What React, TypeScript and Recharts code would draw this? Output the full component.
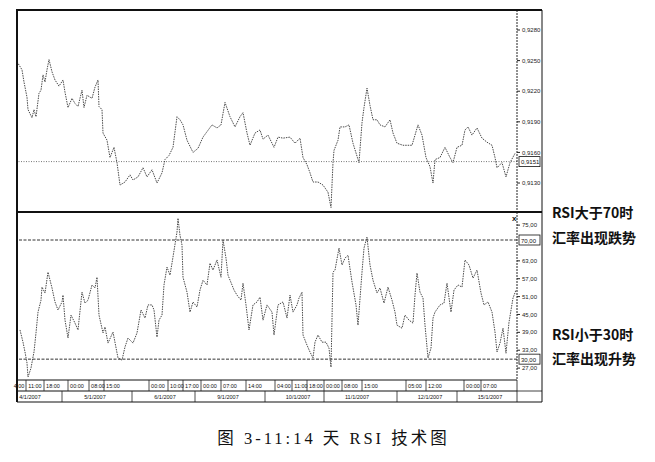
import { LineChart, Line, XAxis, YAxis, ReferenceLine } from "recharts";

// bar positions (hourly bars from the left edge) and closing rates, EUR/USD-ish quote
const priceBars = [
  0, 5, 7, 10, 11, 15, 17, 19, 22, 24, 26, 28, 30, 32, 35, 38, 42, 46, 48, 51,
  55, 58, 61, 65, 67, 70, 75, 78, 81, 82, 85, 86, 90, 93, 97, 100, 103, 108, 113, 116,
  121, 126, 130, 135, 140, 145, 148, 152, 156, 160, 163, 166, 170, 176, 181, 186, 195, 200, 204, 208,
  213, 218, 223, 226, 230, 233, 238, 243, 246, 251, 257, 261, 266, 273, 278, 283, 286, 290, 293, 296,
  301, 306, 311, 314, 316, 317, 321, 323, 328, 332, 336, 342, 345, 347, 350, 353, 356, 360, 363, 368,
  373, 376, 380, 386, 395, 401, 405, 409, 413, 416, 418, 423, 428, 433, 436, 440, 445, 448, 451, 455,
  460, 465, 470, 475, 478, 480, 485, 489, 493, 498,
];
const priceValues = [
  0.9249, 0.9241, 0.9229, 0.9214, 0.9202, 0.9194, 0.9202, 0.9195, 0.9218, 0.9221,
  0.9236, 0.9229, 0.9241, 0.9251, 0.9239, 0.9231, 0.9225, 0.9231, 0.9219, 0.9204,
  0.9213, 0.9208, 0.9205, 0.9221, 0.9204, 0.9216, 0.9213, 0.9224, 0.9231, 0.9205,
  0.9202, 0.9179, 0.9172, 0.9155, 0.9165, 0.915, 0.9128, 0.9131, 0.9138, 0.9133,
  0.9136, 0.9145, 0.9136, 0.9143, 0.913, 0.914, 0.9153, 0.9157, 0.9165, 0.9195,
  0.9192, 0.9187, 0.9172, 0.916, 0.9164, 0.9175, 0.9187, 0.9184, 0.9187, 0.9209,
  0.9195, 0.9185, 0.9195, 0.9199, 0.9179, 0.9167, 0.9179, 0.9182, 0.9173, 0.9177,
  0.9165, 0.9175, 0.9174, 0.9175, 0.9169, 0.9174, 0.9155, 0.9148, 0.914, 0.9131,
  0.9131, 0.9128, 0.9121, 0.9106, 0.915, 0.9162, 0.9172, 0.9185, 0.9185, 0.9187,
  0.9169, 0.915, 0.9189, 0.9204, 0.9223, 0.9206, 0.9192, 0.9192, 0.9187, 0.9185,
  0.9192, 0.9179, 0.9169, 0.9167, 0.9167, 0.9187, 0.9177, 0.9155, 0.9146, 0.913,
  0.9153, 0.9155, 0.9165, 0.9155, 0.915, 0.9165, 0.9167, 0.9182, 0.9185, 0.9177,
  0.9184, 0.9174, 0.917, 0.9167, 0.9155, 0.9145, 0.915, 0.9136, 0.915, 0.9159,
];

const rsiBars = [
  3, 6, 8, 10, 11, 14, 16, 17, 19, 21, 24, 25, 28, 31, 35, 38, 41, 45, 46, 48,
  51, 54, 58, 61, 65, 68, 71, 75, 78, 80, 82, 86, 88, 91, 96, 101, 105, 108, 111, 116,
  120, 124, 128, 131, 135, 137, 140, 142, 145, 147, 150, 153, 156, 160, 161, 163, 165, 166, 170, 173,
  176, 180, 183, 186, 190, 193, 196, 200, 204, 206, 209, 211, 215, 217, 220, 224, 226, 229, 232, 236,
  240, 243, 246, 250, 255, 257, 261, 266, 270, 273, 276, 280, 282, 285, 286, 290, 293, 296, 298, 301,
  305, 309, 312, 314, 316, 318, 322, 325, 328, 331, 335, 339, 341, 345, 347, 350, 353, 356, 360, 363,
  367, 371, 375, 378, 380, 385, 388, 392, 396, 398, 400, 403, 406, 408, 411, 414, 416, 418, 423, 427,
  430, 434, 437, 441, 445, 448, 452, 456, 460, 464, 467, 471, 475, 478, 480, 483, 486, 489, 492, 496, 499,
];
const rsiValues = [
  39.8, 35.7, 32.4, 28.7, 24.0, 27.0, 30.7, 32.4, 38.8, 45.8, 49.8, 54.2, 52.2, 59.2, 53.9, 49.2, 46.5, 49.2, 51.5, 43.1,
  37.1, 44.8, 42.1, 39.8, 52.5, 48.8, 49.8, 54.9, 53.9, 57.5, 44.8, 38.8, 40.8, 35.4, 39.1, 30.4, 29.7, 34.1, 37.1, 35.4,
  38.8, 46.5, 43.8, 48.2, 48.2, 46.5, 37.4, 43.1, 44.8, 54.9, 60.9, 58.2, 64.3, 72.7, 77.3, 71.6, 68.3, 57.5, 52.5, 45.8,
  49.2, 47.5, 53.2, 56.5, 54.9, 62.2, 59.9, 63.3, 57.5, 70.0, 63.9, 58.2, 54.9, 53.2, 51.5, 49.8, 55.5, 48.2, 39.8, 48.2,
  49.2, 50.8, 43.1, 48.2, 45.8, 38.1, 48.2, 49.2, 43.8, 51.5, 45.8, 48.2, 50.5, 52.5, 38.1, 34.7, 32.4, 30.4, 35.7, 38.1,
  35.7, 35.7, 33.7, 27.3, 59.2, 59.9, 67.3, 61.6, 63.9, 64.9, 55.9, 48.2, 41.4, 59.2, 67.3, 71.0, 61.6, 56.5, 52.2, 53.9,
  48.8, 54.2, 49.8, 45.8, 41.4, 40.4, 44.8, 43.1, 42.1, 51.5, 58.9, 52.5, 50.5, 41.4, 30.4, 33.7, 43.8, 45.8, 48.2, 48.8,
  55.5, 45.8, 53.2, 54.9, 54.2, 63.3, 61.6, 57.2, 59.9, 52.2, 48.2, 49.2, 45.8, 39.1, 32.4, 35.4, 40.4, 32.0, 42.4, 50.5, 53.2,
];

const priceTicks = [0.913, 0.916, 0.919, 0.922, 0.925, 0.928];
const priceLast = 0.9151;
const rsiTicks = [27, 33, 39, 45, 51, 57, 63, 75];
const rsiHigh = 70;
const rsiLow = 30;

const timeBars = [2, 18, 36, 60, 81, 96, 141, 160, 175, 193, 213, 238, 267, 284, 299, 316, 334, 354, 398, 418, 456, 473];
const timeLabels = [
  "4:00", "11:00", "18:00", "00:00", "08:00", "15:00", "00:00", "10:00", "17:00", "00:00", "07:00",
  "14:00", "04:00", "11:00", "18:00", "00:00", "08:00", "15:00", "05:00", "12:00", "00:00", "07:00",
];
const dateBars = [13, 78, 148, 211, 281, 340, 413, 473];
const dateLabels = ["4/1/2007", "5/1/2007", "6/1/2007", "9/1/2007", "10/1/2007", "11/1/2007", "12/1/2007", "15/1/2007"];

const priceData = priceBars.map((t, i) => ({ t, v: priceValues[i] }));
const rsiData = rsiBars.map((t, i) => ({ t, v: rsiValues[i] }));

const comma = (v: number, d: number) => v.toFixed(d).replace(".", ",");
const axisFont = "'Liberation Sans', Arial, sans-serif";
const cjk = "'Noto Sans CJK SC', sans-serif";

function BoxLabel(props: any) {
  const { viewBox, text } = props;
  if (!viewBox) return null;
  const x = viewBox.x + viewBox.width + 2;
  return (
    <g>
      <rect x={x} y={viewBox.y - 5} width={21} height={10} fill="#fff" stroke="#111" strokeWidth={0.8} />
      <text x={x + 2} y={viewBox.y + 2.5} fontSize={6} fontFamily={axisFont} fill="#111">
        {text}
      </text>
    </g>
  );
}

function TimeTick(props: any) {
  const { x, y, index } = props;
  return (
    <g>
      {index > 0 && <line x1={x - 9} x2={x - 9} y1={y} y2={y + 11} stroke="#222" strokeWidth={0.8} />}
      <text x={x} y={y + 8} textAnchor="middle" fontSize={5.5} fontFamily={axisFont} fill="#111">
        {timeLabels[index]}
      </text>
    </g>
  );
}

function DateTick(props: any) {
  const { x, y, index } = props;
  return (
    <g>
      {index > 0 && <line x1={x - 33} x2={x - 33} y1={y} y2={y + 11} stroke="#222" strokeWidth={0.8} />}
      <text x={x} y={y + 8} textAnchor="middle" fontSize={5.5} fontFamily={axisFont} fill="#111">
        {dateLabels[index]}
      </text>
    </g>
  );
}

const lineStyle = { stroke: "#4a4a4a", strokeWidth: 1, strokeDasharray: "1.5 1" };

export default function App() {
  return (
    <div style={{ position: "absolute", left: 0, top: 0, width: 655, height: 462, background: "#fff" }}>
      <div style={{ position: "absolute", left: 0, top: 10 }}>
        <LineChart width={542} height={202} data={priceData} margin={{ top: 0, right: 0, bottom: 0, left: 17 }}>
          <XAxis dataKey="t" type="number" domain={[0, 500]} hide />
          <YAxis
            orientation="right"
            domain={[0.91016, 0.92996]}
            ticks={priceTicks}
            tickFormatter={(v) => comma(Number(v), 4)}
            tick={{ fontSize: 6, fill: "#222", fontFamily: axisFont }}
            tickSize={3}
            tickMargin={2}
            axisLine={{ stroke: "#222", strokeDasharray: "2 1" }}
            tickLine={{ stroke: "#222" }}
            width={25}
            interval={0}
          />
          <ReferenceLine
            y={priceLast}
            stroke="#777"
            strokeDasharray="1 1.5"
            label={<BoxLabel text={comma(priceLast, 4)} />}
          />
          <Line type="linear" dataKey="v" dot={false} isAnimationActive={false} {...lineStyle} />
        </LineChart>
      </div>
      <div style={{ position: "absolute", left: 0, top: 212 }}>
        <LineChart width={542} height={190} data={rsiData} margin={{ top: 0, right: 0, bottom: 0, left: 17 }}>
          <XAxis
            dataKey="t"
            type="number"
            domain={[0, 500]}
            ticks={timeBars}
            interval={0}
            height={11}
            tickSize={0}
            tickMargin={0}
            tick={<TimeTick />}
            axisLine={{ stroke: "#111" }}
          />
          <XAxis
            xAxisId="date"
            dataKey="t"
            type="number"
            domain={[0, 500]}
            ticks={dateBars}
            interval={0}
            height={11}
            tickSize={0}
            tickMargin={0}
            tick={<DateTick />}
            axisLine={{ stroke: "#111" }}
          />
          <YAxis
            orientation="right"
            domain={[23, 79.4]}
            ticks={rsiTicks}
            tickFormatter={(v) => comma(Number(v), 2)}
            tick={{ fontSize: 6, fill: "#222", fontFamily: axisFont }}
            tickSize={3}
            tickMargin={2}
            axisLine={{ stroke: "#222", strokeDasharray: "2 1" }}
            tickLine={{ stroke: "#222" }}
            width={25}
            interval={0}
          />
          <ReferenceLine y={rsiHigh} stroke="#333" strokeDasharray="3 1.5" label={<BoxLabel text={comma(rsiHigh, 2)} />} />
          <ReferenceLine y={rsiLow} stroke="#333" strokeDasharray="3 1.5" label={<BoxLabel text={comma(rsiLow, 2)} />} />
          <Line type="linear" dataKey="v" dot={false} isAnimationActive={false} {...lineStyle} />
        </LineChart>
      </div>

      <svg width={655} height={462} style={{ position: "absolute", left: 0, top: 0, pointerEvents: "none" }}>
        <line x1={17} x2={542} y1={10} y2={10} stroke="#111" strokeWidth={2} />
        <line x1={17} x2={17} y1={9} y2={402} stroke="#111" strokeWidth={2} />
        <line x1={17} x2={542} y1={212} y2={212} stroke="#111" strokeWidth={2} />
        <line x1={542} x2={542} y1={10} y2={402} stroke="#111" strokeWidth={1} />
        <line x1={17} x2={542} y1={402} y2={402} stroke="#111" strokeWidth={1} />
        <line x1={517} x2={542} y1={391} y2={391} stroke="#111" strokeWidth={0.8} />
        <line x1={517} x2={517} y1={380} y2={402} stroke="#111" strokeWidth={0.8} />
        <text x={512} y={221} fontSize={8} fontWeight={700} fontFamily={axisFont} fill="#111">
          x
        </text>
      </svg>

      <div style={{ position: "absolute", left: 552, top: 202, fontFamily: cjk, fontWeight: 700, fontSize: 14, lineHeight: "20px", color: "#111", whiteSpace: "nowrap" }}>
        RSI大于70时
      </div>
      <div style={{ position: "absolute", left: 552, top: 227, fontFamily: cjk, fontWeight: 700, fontSize: 14, lineHeight: "20px", color: "#111", whiteSpace: "nowrap" }}>
        汇率出现跌势
      </div>
      <div style={{ position: "absolute", left: 552, top: 324, fontFamily: cjk, fontWeight: 700, fontSize: 14, lineHeight: "20px", color: "#111", whiteSpace: "nowrap" }}>
        RSI小于30时
      </div>
      <div style={{ position: "absolute", left: 552, top: 348, fontFamily: cjk, fontWeight: 700, fontSize: 14, lineHeight: "20px", color: "#111", whiteSpace: "nowrap" }}>
        汇率出现升势
      </div>
      <div
        style={{
          position: "absolute",
          left: 6,
          width: 655,
          top: 428,
          textAlign: "center",
          fontFamily: "'Liberation Serif', 'Noto Sans CJK SC', serif",
          fontSize: 16.5,
          letterSpacing: 3,
          lineHeight: "22px",
          color: "#111",
          whiteSpace: "nowrap",
        }}
      >
        图 3-11:14 天 RSI 技术图
      </div>
    </div>
  );
}
